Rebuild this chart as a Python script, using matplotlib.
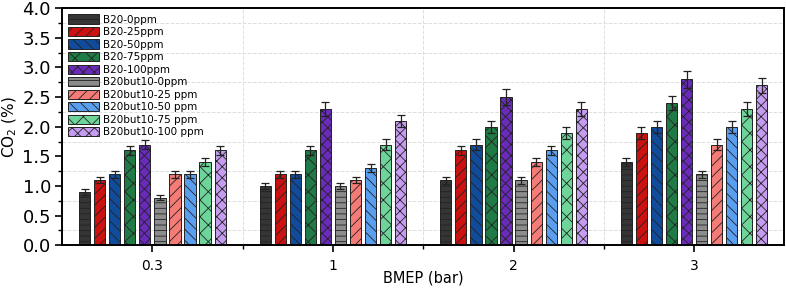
import matplotlib
matplotlib.use("Agg")
import matplotlib.pyplot as plt
from matplotlib.ticker import MultipleLocator
import numpy as np

plt.rcParams["hatch.linewidth"] = 0.6

categories = ["0.3", "1", "2", "3"]
series = ["B20-0ppm", "B20-25ppm", "B20-50ppm", "B20-75ppm", "B20-100ppm",
          "B20but10-0ppm", "B20but10-25 ppm", "B20but10-50 ppm",
          "B20but10-75 ppm", "B20but10-100 ppm"]

# rows: series, columns: BMEP category
values = [
    [0.9, 1.0, 1.1, 1.4],
    [1.1, 1.2, 1.6, 1.9],
    [1.2, 1.2, 1.7, 2.0],
    [1.6, 1.6, 2.0, 2.4],
    [1.7, 2.3, 2.5, 2.8],
    [0.8, 1.0, 1.1, 1.2],
    [1.2, 1.1, 1.4, 1.7],
    [1.2, 1.3, 1.6, 2.0],
    [1.4, 1.7, 1.9, 2.3],
    [1.6, 2.1, 2.3, 2.7],
]
errors = [
    [0.05, 0.05, 0.06, 0.07],
    [0.05, 0.06, 0.08, 0.10],
    [0.06, 0.06, 0.09, 0.10],
    [0.08, 0.08, 0.10, 0.12],
    [0.08, 0.12, 0.13, 0.14],
    [0.04, 0.05, 0.06, 0.06],
    [0.06, 0.05, 0.07, 0.09],
    [0.06, 0.07, 0.08, 0.10],
    [0.07, 0.09, 0.10, 0.12],
    [0.08, 0.10, 0.12, 0.13],
]

colors = ["#353535", "#cc1111", "#114c9c", "#1f7a45", "#6a2bbb",
          "#8c8c8c", "#f47b76", "#5a9ef0", "#6dd59a", "#c59cf0"]
hatches = ["---", "///", "\\\\\\", "xx", "xxx",
           "---", "///", "\\\\\\", "xx", "xxx"]

fig = plt.figure(figsize=(7.86, 2.92), dpi=100)
ax = fig.add_axes([0.079, 0.16, 0.919, 0.812])

x = np.arange(len(categories))
step = 1 / 12
width = 0.062
for i, name in enumerate(series):
    pos = x + (i - 4.5) * step
    ax.bar(pos, values[i], width, color=colors[i], edgecolor="#222222",
           linewidth=0.7, hatch=hatches[i], label=name,
           yerr=errors[i], capsize=3,
           error_kw=dict(ecolor="#222222", elinewidth=0.9, capthick=0.9))

ax.set_xlim(-0.5, 3.5)
ax.set_ylim(0, 4.0)
ax.set_xticks(x)
ax.set_xticklabels(categories, fontsize=10)
ax.set_xticks(x[:-1] + 0.5, minor=True)
ax.yaxis.set_major_locator(MultipleLocator(0.5))
ax.yaxis.set_minor_locator(MultipleLocator(0.25))
ax.tick_params(axis="y", labelsize=13, direction="out", width=1.2, length=5, pad=3)
ax.tick_params(axis="y", which="minor", direction="out", width=1, length=3)
ax.tick_params(axis="x", direction="out", width=1.2, length=5, pad=5)
ax.tick_params(axis="x", which="minor", direction="out", width=1, length=3)
ax.grid(which="minor", color="#dddddd", linestyle="--", linewidth=0.7)
ax.set_axisbelow(True)
for s in ax.spines.values():
    s.set_linewidth(1.4)

ax.set_xlabel("BMEP (bar)", fontsize=10.5, va="center")
ax.xaxis.set_label_coords(0.5, -0.14)
ax.set_ylabel("CO$_2$ (%)", fontsize=11, labelpad=2)

ax.legend(loc="upper left", frameon=False, fontsize=7.5, ncol=1,
          handlelength=2.9, handleheight=1.0, labelspacing=0.22,
          handletextpad=0.4, borderaxespad=0.2, bbox_to_anchor=(0.0, 1.0))

fig.savefig("out.png", dpi=100)
